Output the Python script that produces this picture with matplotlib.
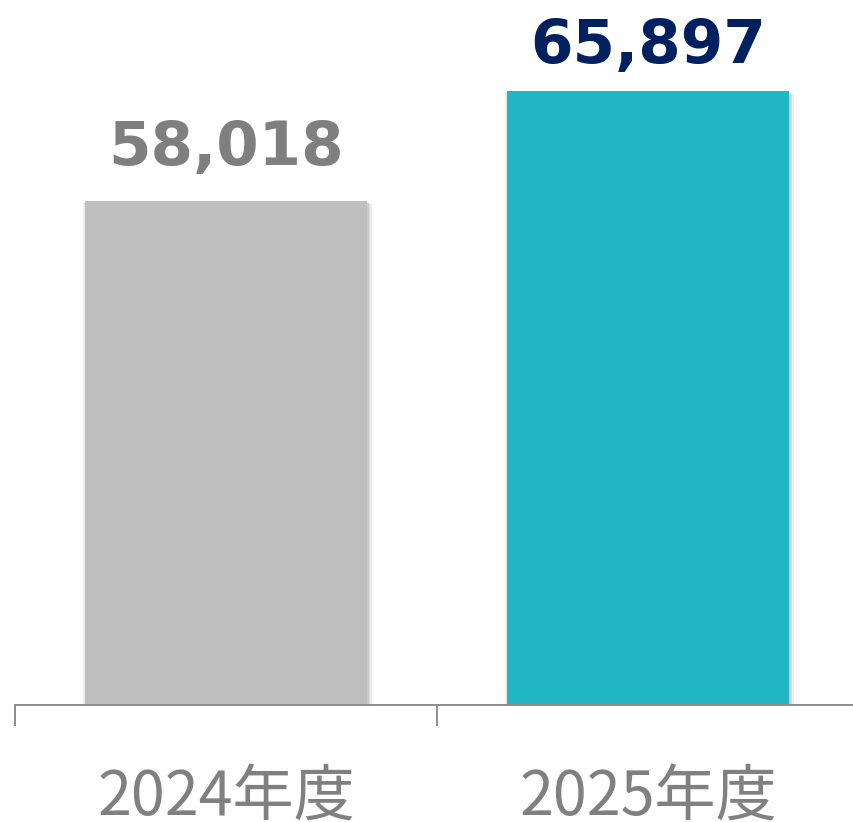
import matplotlib
matplotlib.use("Agg")
import matplotlib.pyplot as plt
import matplotlib.patheffects as pe

# データ
categories = ["2024年度", "2025年度"]
values = [58018, 65897]
bar_colors = ["#bfbfbf", "#21b6c5"]
label_colors = ["#7f7f7f", "#002060"]
label_offsets = [26, 20]  # 棒の上端からの距離 (pt)

plt.rcParams['font.family'] = ['Noto Sans CJK JP', 'DejaVu Sans']

fig = plt.figure(figsize=(8.54, 8.22), dpi=100)
# 軸は右端を少しはみ出す
ax = fig.add_axes([15 / 854, 1 - 705 / 822, 844 / 854, 705 / 822])

x = range(len(categories))
bars = ax.bar(x, values, width=0.668, color=bar_colors, zorder=2)
# ぼかした影のかわりに薄い影を何枚か重ねる
shadow = [pe.SimplePatchShadow(offset=o, shadow_rgbFace='#000000', alpha=0.07)
          for o in [(-1.5, -1), (1.5, -1), (2.5, -1.5), (3.5, -2), (0, -2)]]
for b in bars:
    b.set_path_effects(shadow + [pe.Normal()])

ax.set_xlim(-0.5, 1.5)
ax.set_ylim(21918, 72416)

for i, v in enumerate(values):
    ax.annotate(f"{v:,}", (i, v), xytext=(0, label_offsets[i]), textcoords='offset points',
                ha='center', va='baseline', fontsize=44, fontweight='bold',
                color=label_colors[i], family='DejaVu Sans')

for s in ['top', 'right', 'left']:
    ax.spines[s].set_visible(False)
ax.spines['bottom'].set_color('#8c8c8c')
ax.spines['bottom'].set_linewidth(1.4)
ax.set_yticks([])

# 区切りの目盛りと項目名
ax.set_xticks([-0.5, 0.5, 1.5])
ax.set_xticklabels([])
ax.tick_params(axis='x', length=15, width=1.4, color='#8c8c8c')
ax.set_xticks(list(x), minor=True)
ax.set_xticklabels(categories, minor=True, fontsize=44, color='#808080')
ax.tick_params(axis='x', which='minor', length=0, pad=45)

fig.savefig("out.png", dpi=100)
